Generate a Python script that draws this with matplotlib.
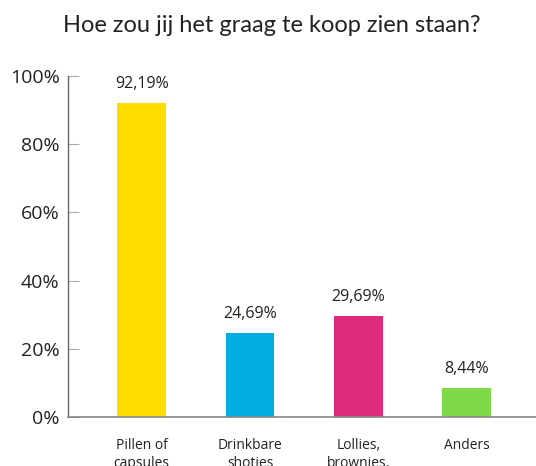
import numpy as np
import matplotlib.pyplot as plt

categories = ['Pillen of\ncapsules', 'Drinkbare\nshotjes', 'Lollies,\nbrownies,', 'Anders']
values = [92.19, 24.69, 29.69, 8.44]
colors = ['#FFDD00', '#00AEE0', '#DD2A7B', '#7ED94B']
yticks = [0, 20, 40, 60, 80, 100]

plt.rcParams['font.family'] = ['Open Sans', 'DejaVu Sans']

fig = plt.figure(figsize=(5.36, 4.66), dpi=100)
ax = fig.add_axes([68 / 536, 49 / 466, 1 - 68 / 536, 341 / 466])

x = np.arange(len(categories))
ax.bar(x, values, width=0.45, color=colors)

for xi, v in zip(x, values):
    label = f'{v:.2f}%'.replace('.', ',')
    ax.annotate(label, (xi, v), xytext=(0, 8), textcoords='offset points',
                ha='center', va='bottom', fontsize=11.5, color='#222222')

ax.set_xlim(-0.68, 3.64)
ax.set_ylim(0, 100)
ax.set_yticks(yticks)
ax.set_yticklabels([f'{t}%' for t in yticks], fontsize=14, color='#222222')
ax.set_xticks(x)
ax.set_xticklabels(categories, fontsize=10, color='#222222', va='top', linespacing=1.25)

ax.tick_params(axis='y', direction='in', length=8, color='#aaaaaa', pad=6)
ax.tick_params(axis='x', length=0, pad=15)

for side in ['top', 'right']:
    ax.spines[side].set_visible(False)
ax.spines['left'].set_color('#666666')
ax.spines['bottom'].set_color('#888888')
ax.spines['left'].set_linewidth(1)
ax.spines['bottom'].set_linewidth(1.2)

fig.text(272 / 536, 1 - 25 / 466, 'Hoe zou jij het graag te koop zien staan?',
         ha='center', va='center', fontsize=17, color='#222222',
         family=['Lato', 'DejaVu Sans'])

fig.savefig('out.png', dpi=100)
